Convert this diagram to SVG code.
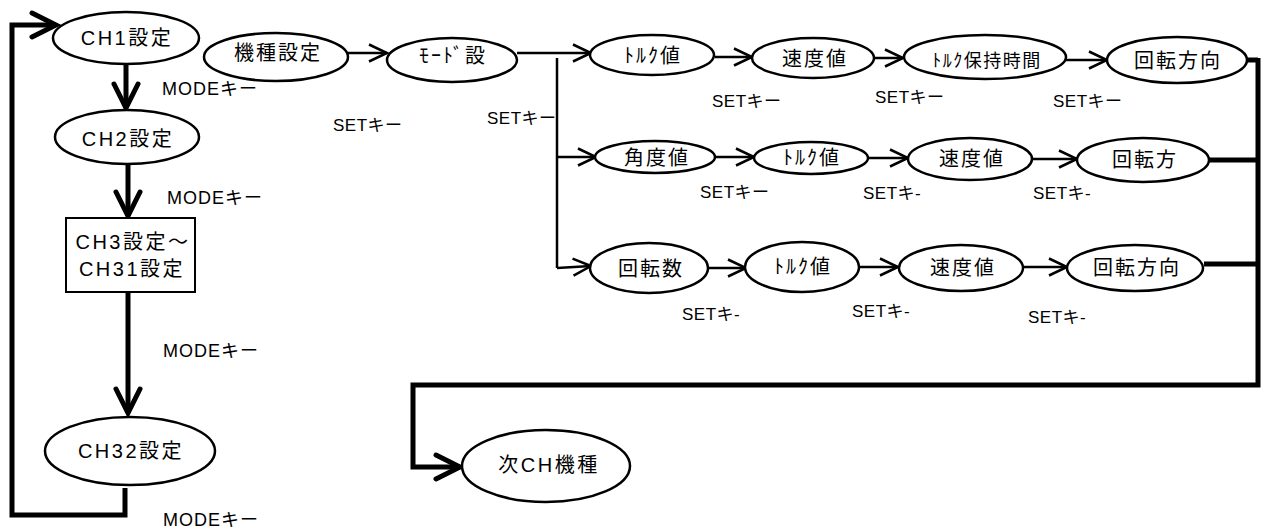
<svg xmlns="http://www.w3.org/2000/svg" width="1264" height="531" viewBox="0 0 1264 531">
  <style>
    .node { fill: #fff; stroke: #000; stroke-width: 2.5; }
    .box { fill: #fff; stroke: #000; stroke-width: 2; }
    .t { font-family: "Liberation Sans", "Noto Sans CJK JP", sans-serif; font-size: 20px; fill: #000; text-anchor: middle; letter-spacing: 2px; }
    .ch { letter-spacing: 2.5px; }
    .small { font-size: 18px; letter-spacing: 1.5px; }
    .lbl { font-family: "Liberation Sans", "Noto Sans CJK JP", sans-serif; font-size: 17px; fill: #000; letter-spacing: 0.5px; }
    .mode { font-size: 18px; letter-spacing: 1px; }
    .thin { fill: none; stroke: #000; stroke-width: 2.5; marker-end: url(#arrowThin); }
    .thick { fill: none; stroke: #000; stroke-width: 5; }
    .thickArrow { marker-end: url(#arrowThick); }
  </style>
  <defs>
    <marker id="arrowThin" markerUnits="userSpaceOnUse" markerWidth="22" markerHeight="22" refX="19" refY="10" orient="auto">
      <path d="M1,1.5 L19,10 L1,18.5" fill="none" stroke="#000" stroke-width="2.5"/>
    </marker>
    <marker id="arrowThick" markerUnits="userSpaceOnUse" markerWidth="32" markerHeight="32" refX="27" refY="15" orient="auto">
      <path d="M3,3 L27,15 L3,27" fill="none" stroke="#000" stroke-width="5" stroke-linecap="round"/>
    </marker>
  </defs>

  <!-- connectors -->
  <g id="connectors">
    <!-- channel column -->
    <path class="thick thickArrow" d="M126,65 V108"/>
    <path class="thick thickArrow" d="M128,163 V216"/>
    <path class="thick thickArrow" d="M128,292 V413"/>
    <path class="thick thickArrow" d="M125,488 V515 H12 V25 H56"/>
    <!-- model / mode -->
    <path class="thin" d="M348,53 H387"/>
    <path class="thin" d="M517,53 H591"/>
    <path d="M557,58 V268" fill="none" stroke="#000" stroke-width="2.5"/>
    <path class="thin" d="M557,157 H596"/>
    <path class="thin" d="M557,268 L591,266"/>
    <!-- row 1 -->
    <path class="thin" d="M715,57 H752"/>
    <path class="thin" d="M875,58 H903"/>
    <path class="thin" d="M1066,60 H1107"/>
    <!-- row 2 -->
    <path class="thin" d="M715,157 H754"/>
    <path class="thin" d="M868,158 H908"/>
    <path class="thin" d="M1032,159 H1077"/>
    <!-- row 3 -->
    <path class="thin" d="M708,268 H746"/>
    <path class="thin" d="M859,267 H898"/>
    <path class="thin" d="M1023,267 H1067"/>
    <!-- collect to next channel model -->
    <path class="thick" d="M1247,60 H1258"/>
    <path class="thick" d="M1209,160 H1258"/>
    <path class="thick" d="M1204,264 H1256"/>
    <path class="thick thickArrow" d="M1258,58 V385 H413 V467 H460"/>
  </g>

  <!-- labels on connectors -->
  <g id="labels">
    <text class="lbl mode" x="162" y="95">MODEキー</text>
    <text class="lbl mode" x="167" y="204">MODEキー</text>
    <text class="lbl mode" x="163" y="357">MODEキー</text>
    <text class="lbl mode" x="163" y="526">MODEキー</text>
    <text class="lbl" x="333" y="131">SETキー</text>
    <text class="lbl" x="487" y="124">SETキー</text>
    <text class="lbl" x="712" y="107">SETキー</text>
    <text class="lbl" x="875" y="103">SETキー</text>
    <text class="lbl" x="1053" y="107">SETキー</text>
    <text class="lbl" x="700" y="198">SETキー</text>
    <text class="lbl" x="863" y="199">SETキ-</text>
    <text class="lbl" x="1033" y="199">SETキ-</text>
    <text class="lbl" x="682" y="320">SETキ-</text>
    <text class="lbl" x="852" y="317">SETキ-</text>
    <text class="lbl" x="1028" y="323">SETキ-</text>
  </g>

  <!-- channel nodes -->
  <g id="ch1">
    <ellipse class="node" cx="126" cy="38" rx="73" ry="26"/>
    <text class="t ch" x="127" y="45">CH1設定</text>
  </g>
  <g id="ch2">
    <ellipse class="node" cx="127" cy="137" rx="72" ry="27"/>
    <text class="t ch" x="128" y="146">CH2設定</text>
  </g>
  <g id="ch3-31">
    <rect class="box" x="66" y="218" width="129" height="74"/>
    <text class="t ch" x="133" y="249">CH3設定〜</text>
    <text class="t ch" x="132" y="276">CH31設定</text>
  </g>
  <g id="ch32">
    <ellipse class="node" cx="130" cy="451" rx="85" ry="34"/>
    <text class="t ch" x="131" y="458">CH32設定</text>
  </g>

  <!-- model / mode nodes -->
  <g id="model">
    <ellipse class="node" cx="276" cy="57" rx="72" ry="24"/>
    <text class="t" x="278" y="60">機種設定</text>
  </g>
  <g id="mode">
    <ellipse class="node" cx="452" cy="60" rx="65" ry="22"/>
    <text class="t" x="453" y="63">ﾓｰﾄﾞ設</text>
  </g>

  <!-- row 1 -->
  <g id="r1-torque">
    <ellipse class="node" cx="652" cy="55" rx="62" ry="20"/>
    <text class="t" x="653" y="63">ﾄﾙｸ値</text>
  </g>
  <g id="r1-speed">
    <ellipse class="node" cx="813" cy="58" rx="61" ry="20"/>
    <text class="t" x="815" y="66">速度値</text>
  </g>
  <g id="r1-hold">
    <ellipse class="node" cx="985" cy="57" rx="81" ry="22"/>
    <text class="t small" x="987" y="67">ﾄﾙｸ保持時間</text>
  </g>
  <g id="r1-dir">
    <ellipse class="node" cx="1177" cy="60" rx="70" ry="23"/>
    <text class="t" x="1178" y="68">回転方向</text>
  </g>

  <!-- row 2 -->
  <g id="r2-angle">
    <ellipse class="node" cx="655" cy="157" rx="60" ry="16"/>
    <text class="t" x="657" y="165">角度値</text>
  </g>
  <g id="r2-torque">
    <ellipse class="node" cx="811" cy="158" rx="57" ry="16"/>
    <text class="t" x="812" y="165">ﾄﾙｸ値</text>
  </g>
  <g id="r2-speed">
    <ellipse class="node" cx="970" cy="159" rx="62" ry="21"/>
    <text class="t" x="972" y="166">速度値</text>
  </g>
  <g id="r2-dir">
    <ellipse class="node" cx="1143" cy="160" rx="66" ry="22"/>
    <text class="t" x="1145" y="167">回転方</text>
  </g>

  <!-- row 3 -->
  <g id="r3-turns">
    <ellipse class="node" cx="649" cy="268" rx="59" ry="25"/>
    <text class="t" x="651" y="276">回転数</text>
  </g>
  <g id="r3-torque">
    <ellipse class="node" cx="802" cy="267" rx="57" ry="25"/>
    <text class="t" x="803" y="274">ﾄﾙｸ値</text>
  </g>
  <g id="r3-speed">
    <ellipse class="node" cx="961" cy="268" rx="62" ry="23"/>
    <text class="t" x="963" y="275">速度値</text>
  </g>
  <g id="r3-dir">
    <ellipse class="node" cx="1135" cy="268" rx="68" ry="23"/>
    <text class="t" x="1137" y="275">回転方向</text>
  </g>

  <!-- next channel model -->
  <g id="next-model">
    <ellipse class="node" cx="546" cy="466" rx="84" ry="36"/>
    <text class="t ch" x="549" y="472">次CH機種</text>
  </g>
</svg>
